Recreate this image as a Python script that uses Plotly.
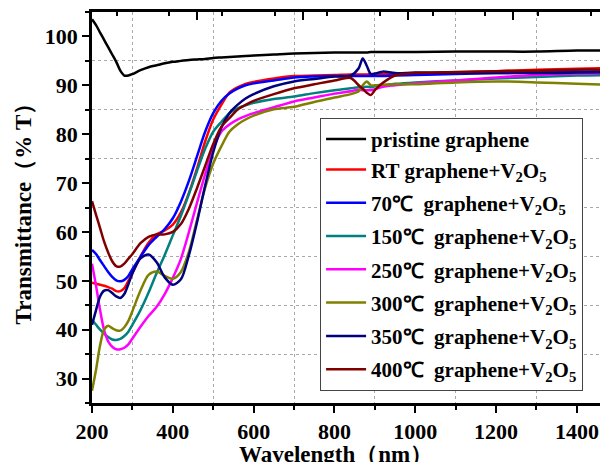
import plotly.graph_objects as go

wavelength = [200, 210, 220, 230, 240, 250, 260, 270, 280, 290, 300, 320, 340, 360, 380,
              400, 420, 440, 460, 480, 500, 520, 540, 560, 580, 600, 650, 700, 750, 800,
              840, 860, 870, 880, 890, 900, 920, 950, 1000, 1100, 1200, 1300, 1400, 1480]

pristine = [103.5, 102.3, 100.8, 99.3, 97.8, 96.3, 94.8, 93.0, 92.0, 92.0, 92.3, 93.1, 93.7, 94.1, 94.5,
            94.8, 95.0, 95.2, 95.3, 95.4, 95.6, 95.7, 95.8, 95.9, 96.0, 96.1, 96.3, 96.5, 96.6, 96.7,
            96.7, 96.7, 96.7, 96.7, 96.8, 96.8, 96.8, 96.8, 96.8, 96.9, 96.9, 96.9, 97.1, 97.1]
rt = [49.6, 49.4, 49.2, 49.0, 48.7, 48.4, 47.9, 47.9, 48.5, 50.0, 51.6, 55.0, 57.8, 59.5, 60.3,
      61.5, 64.0, 68.0, 73.0, 78.5, 83.0, 86.0, 88.5, 89.6, 90.3, 90.7, 91.4, 91.9, 92.0, 92.1,
      92.2, 92.2, 92.2, 92.2, 92.3, 92.3, 92.3, 92.3, 92.3, 92.6, 92.9, 93.2, 93.4, 93.5]
t70 = [56.3, 55.5, 54.2, 53.0, 51.8, 50.8, 50.1, 49.9, 50.2, 51.0, 52.4, 54.9, 57.3, 59.0, 60.6,
       62.8, 66.2, 70.5, 75.5, 80.5, 84.3, 86.8, 88.3, 89.3, 90.0, 90.4, 91.0, 91.6, 91.8, 91.9,
       91.9, 91.9, 91.9, 91.9, 91.9, 91.9, 91.9, 92.0, 92.1, 92.3, 92.5, 92.6, 92.8, 92.8]
t150 = [42.0, 41.0, 40.0, 39.2, 38.5, 38.0, 37.9, 38.1, 38.7, 39.6, 41.0, 44.0, 47.6, 51.6, 55.3,
        59.3, 63.3, 67.8, 72.5, 77.0, 80.5, 82.5, 84.3, 85.3, 85.9, 86.4, 87.2, 87.7, 88.4, 89.0,
        89.4, 89.6, 89.6, 89.7, 89.6, 89.8, 90.0, 90.3, 90.6, 91.0, 91.4, 91.7, 92.0, 92.1]
t250 = [53.5, 49.0, 44.0, 39.9, 37.6, 36.5, 36.0, 36.0, 36.3, 37.0, 38.2, 40.6, 42.8, 44.7, 47.3,
        50.6, 54.5, 60.0, 66.0, 71.8, 77.0, 80.5, 82.0, 83.0, 83.7, 84.3, 85.5, 86.7, 87.5, 88.3,
        88.8, 89.1, 89.0, 89.0, 89.0, 89.2, 89.7, 90.0, 90.4, 91.0, 91.6, 92.1, 92.4, 92.5]
t300 = [27.5, 31.8, 36.8, 40.0, 40.8, 40.3, 39.9, 39.8, 40.5, 41.8, 43.8, 48.0, 51.2, 51.9, 51.0,
        50.4, 51.8, 56.0, 62.5, 69.0, 74.0, 77.5, 80.5, 82.0, 83.0, 83.8, 85.1, 85.6, 86.6, 87.5,
        88.2, 88.8, 90.0, 90.8, 90.0, 90.0, 90.1, 90.2, 90.2, 90.6, 90.8, 90.6, 90.3, 90.1]
t350 = [41.0, 44.0, 46.8, 48.0, 48.1, 47.5, 46.8, 46.5, 47.3, 49.3, 51.5, 54.6, 55.4, 53.8, 50.7,
        49.2, 50.3, 55.3, 62.0, 69.5, 76.3, 81.3, 84.3, 86.0, 87.3, 88.2, 89.8, 90.8, 91.3, 91.8,
        92.0, 93.5, 95.5, 94.0, 92.3, 92.4, 92.8, 92.5, 92.6, 92.5, 92.5, 92.5, 92.6, 92.7]
t400 = [66.3, 63.5, 60.8, 58.0, 55.8, 54.0, 53.0, 52.9, 53.5, 54.5, 55.5, 57.7, 59.0, 59.5, 59.5,
        60.0, 61.6, 64.8, 69.0, 73.5, 78.0, 81.5, 83.3, 85.0, 86.0, 86.8, 88.2, 89.4, 90.2, 91.0,
        91.5, 90.0, 89.3, 88.5, 88.0, 89.0, 90.5, 92.0, 92.5, 92.7, 92.9, 93.0, 93.2, 93.2]

V = "graphene+V<sub>2</sub>O<sub>5</sub>"
series_names = ["pristine graphene", "RT " + V, "70℃\u00a0 " + V, "150℃\u00a0 " + V,
                "250℃\u00a0 " + V, "300℃\u00a0 " + V, "350℃\u00a0 " + V, "400℃\u00a0 " + V]
series_groups = ["g0", "g0", "g2", "g3", "g4", "g5", "g6", "g7"]
series_values = [pristine, rt, t70, t150, t250, t300, t350, t400]
series_colors = ["#000000", "#FF0000", "#0000FF", "#008080", "#FF00FF", "#808000", "#000080", "#800000"]

FONT = "Liberation Serif"

fig = go.Figure()
for name, grp, vals, col in zip(series_names, series_groups, series_values, series_colors):
    fig.add_trace(go.Scatter(x=wavelength, y=vals, name=name, mode="lines", legendgroup=grp,
                             line=dict(color=col, width=2.5, shape="spline", smoothing=0.8)))
fig.add_trace(go.Scatter(x=[], y=[], xaxis="x2", showlegend=False, hoverinfo="skip"))

fig.update_layout(
    template="none",
    width=600, height=454,
    margin=dict(l=84, r=0, t=4, b=59, autoexpand=False),
    paper_bgcolor="white", plot_bgcolor="white",
    font=dict(family=FONT, color="black"),
    showlegend=True,
    legend=dict(x=0.442, y=0.729, xanchor="left", yanchor="top",
                bgcolor="white", bordercolor="#444", borderwidth=1,
                font=dict(family=FONT, size=21, color="black", weight="bold"),
                tracegroupgap=3, itemwidth=40, traceorder="grouped"),
    xaxis=dict(range=[200, 1477], tick0=200, dtick=200, ticks="outside", ticklen=7, tickwidth=2,
               tickcolor="black", automargin=False,
               showline=True, linewidth=2.5, linecolor="black", showgrid=False, zeroline=False,
               tickfont=dict(family=FONT, size=22, color="black", weight="bold"),
               minor=dict(dtick=100, ticks="outside", ticklen=4, tickwidth=2, tickcolor="black",
                          showgrid=True, gridcolor="#aaaaaa", gridwidth=1, griddash="dot")),
    xaxis2=dict(overlaying="x", side="top", matches="x", range=[200, 1477], automargin=False,
                tick0=460.5, dtick=260.8, ticks="inside", ticklen=8, tickwidth=2, tickcolor="black",
                showticklabels=False, showline=True, linewidth=2.5, linecolor="black",
                showgrid=False, zeroline=False,
                minor=dict(dtick=130.4, ticks="inside", ticklen=4, tickwidth=2, tickcolor="black",
                           showgrid=False)),
    yaxis=dict(range=[25, 105], tick0=0, dtick=10, ticks="outside", ticklen=7, tickwidth=2,
               tickcolor="black", automargin=False,
               showline=True, linewidth=2.5, linecolor="black", showgrid=False, zeroline=False,
               tickfont=dict(family=FONT, size=22, color="black", weight="bold"),
               minor=dict(dtick=5, ticks="outside", ticklen=4, tickwidth=2, tickcolor="black",
                          showgrid=True, gridcolor="#aaaaaa", gridwidth=1, griddash="dot")),
    annotations=[
        dict(text="Transmittance（% T）", xref="paper", yref="paper", x=-0.132, y=0.5,
             xanchor="center", yanchor="middle", textangle=-90, showarrow=False,
             font=dict(family=FONT, size=23, color="black", weight="bold")),
        dict(text="Wavelength（nm）", xref="paper", yref="paper", x=0.473, y=-0.095,
             xanchor="center", yanchor="top", showarrow=False,
             font=dict(family=FONT, size=23, color="black", weight="bold")),
    ],
)

fig.write_html("out.html")
